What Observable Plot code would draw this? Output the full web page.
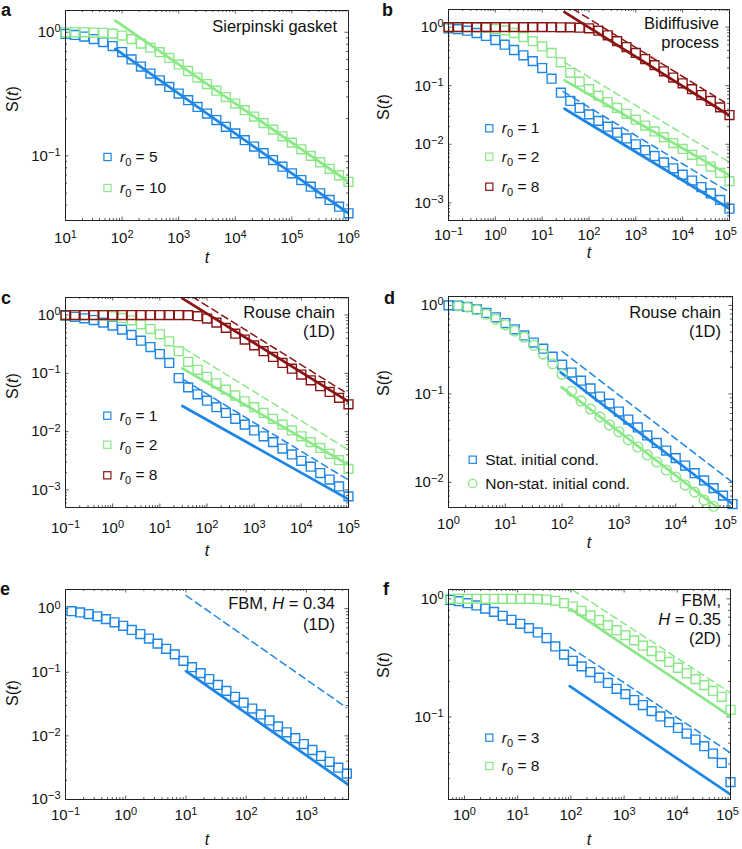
<!DOCTYPE html>
<html>
<head>
<meta charset="utf-8">
<script src="https://cdn.jsdelivr.net/npm/d3@7"></script>
<script src="https://cdn.jsdelivr.net/npm/@observablehq/plot@0.6"></script>
<style>
  html, body { margin: 0; padding: 0; background: #fff; }
  #fig { position: relative; width: 742px; height: 849px; overflow: hidden; background: #fff; }
  #fig svg { position: absolute; }
</style>
</head>
<body>
<div id="fig"></div>
<script>
// ---------------- DATA ----------------
// Panel a: Sierpinski gasket
const tA = [10, 14.68, 21.54, 31.62, 46.42, 68.13, 100, 146.8, 215.4, 316.2, 464.2, 681.3, 1000, 1468, 2154, 3162, 4642, 6813, 1e4, 14680, 21540, 31620, 46420, 68130, 1e5, 146800, 215400, 316200, 464200, 681300, 1e6];
const sA_r5 = [0.970, 0.951, 0.923, 0.881, 0.832, 0.773, 0.692, 0.603, 0.528, 0.463, 0.409, 0.361, 0.319, 0.282, 0.249, 0.220, 0.195, 0.172, 0.152, 0.134, 0.119, 0.105, 0.0925, 0.0817, 0.0722, 0.0637, 0.0563, 0.0498, 0.0440, 0.0388, 0.0343];
const sA_r10 = [1.0, 1.0, 1.0, 0.995, 0.99, 0.975, 0.94, 0.88, 0.81, 0.75, 0.69, 0.62, 0.549, 0.486, 0.430, 0.381, 0.337, 0.299, 0.265, 0.234, 0.208, 0.184, 0.163, 0.144, 0.128, 0.113, 0.100, 0.0888, 0.0786, 0.0697, 0.0617];
const lA_t = [76, 1e6];
const lA_r5 = [0.734, 0.0343];
const lA_r10 = [1.24, 0.0617];

// Panel b: Bidiffusive process
const tB = [0.1, 0.1585, 0.2512, 0.3981, 0.631, 1, 1.585, 2.512, 3.981, 6.31, 10, 15.85, 25.12, 39.81, 63.1, 100, 158.5, 251.2, 398.1, 631, 1000, 1585, 2512, 3981, 6310, 1e4, 15850, 25120, 39810, 63100, 1e5];
const sB_r1 = [0.955, 0.923, 0.871, 0.794, 0.708, 0.603, 0.501, 0.407, 0.331, 0.263, 0.200, 0.132, 0.0759, 0.0550, 0.0417, 0.0324, 0.0251, 0.0200, 0.0158, 0.0126, 0.0100, 0.00794, 0.00631, 0.00490, 0.00389, 0.00302, 0.00240, 0.00186, 0.00145, 0.00112, 0.000794];
const sB_r2 = [1.0, 1.0, 1.0, 0.989, 0.977, 0.933, 0.881, 0.794, 0.676, 0.575, 0.468, 0.363, 0.251, 0.166, 0.117, 0.0871, 0.0676, 0.0525, 0.0417, 0.0331, 0.0263, 0.0209, 0.0166, 0.0132, 0.0105, 0.00832, 0.00661, 0.00525, 0.00417, 0.00324, 0.00234];
const sB_r8 = [1, 1, 1, 1, 1, 1, 1, 1, 1, 1, 1.0, 0.998, 0.995, 0.99, 0.98, 0.955, 0.871, 0.724, 0.575, 0.457, 0.363, 0.285, 0.224, 0.176, 0.138, 0.110, 0.0871, 0.0692, 0.0550, 0.0427, 0.0316];
const lB_solid_t = [30, 1e5];
const lB_r1_solid = [0.0404, 0.000794];
const lB_r2_solid = [0.123, 0.00295];
const lB_r8_solid = [1.80, 0.031];
const lB_r1_dash_t = [28, 1e5], lB_r1_dash = [0.0794, 0.00152];
const lB_r2_dash_t = [30, 1e5], lB_r2_dash = [0.252, 0.00495];
const lB_r8_dash_t = [45, 78000], lB_r8_dash = [2.06, 0.0524];

// Panel c: Rouse chain (1D)
const tC = tB;
const sC_r1 = [0.977, 0.933, 0.881, 0.822, 0.741, 0.661, 0.562, 0.457, 0.363, 0.282, 0.214, 0.151, 0.0832, 0.0575, 0.0437, 0.0339, 0.0263, 0.0209, 0.0166, 0.0132, 0.0105, 0.00832, 0.00661, 0.00513, 0.00407, 0.00316, 0.00251, 0.00195, 0.00151, 0.00115, 0.000776];
const sC_r2 = [1, 1, 1, 1, 0.989, 0.955, 0.891, 0.813, 0.692, 0.575, 0.468, 0.355, 0.240, 0.158, 0.115, 0.0871, 0.0676, 0.0525, 0.0417, 0.0331, 0.0263, 0.0209, 0.0166, 0.0132, 0.0105, 0.00832, 0.00661, 0.00525, 0.00417, 0.00324, 0.00229];
const sC_r8 = [1, 1, 1, 1, 1, 1, 1, 1, 1, 1, 1, 1, 1, 0.995, 0.955, 0.871, 0.741, 0.603, 0.479, 0.380, 0.302, 0.240, 0.191, 0.151, 0.120, 0.0955, 0.0759, 0.0603, 0.0479, 0.0380, 0.0295];
const lC_solid_t = [30, 1e5];
const lC_r1_solid = [0.0275, 0.00069];
const lC_r2_solid = [0.122, 0.00269];
const lC_r8_solid = [1.93, 0.0327];
const lC_dash_t = [32.5, 1e5];
const lC_r1_dash = [0.0769, 0.00148];
const lC_r2_dash = [0.268, 0.00485];
const lC_r8_dash_t = [49, 81000], lC_r8_dash = [2.06, 0.0485];

// Panel d: Rouse chain (1D), initial conditions
const tD_stat = [1, 1.468, 2.154, 3.162, 4.642, 6.813, 10, 14.68, 21.54, 31.62, 46.42, 68.13, 100, 146.8, 215.4, 316.2, 464.2, 681.3, 1000, 1468, 2154, 3162, 4642, 6813, 1e4, 14680, 21540, 31620, 46420, 68130, 1e5];
const sD_stat = [1.0, 0.991, 0.960, 0.902, 0.822, 0.733, 0.631, 0.537, 0.457, 0.380, 0.324, 0.263, 0.214, 0.174, 0.141, 0.115, 0.0933, 0.0776, 0.0631, 0.0513, 0.0417, 0.0339, 0.0279, 0.0229, 0.0188, 0.0155, 0.0127, 0.0105, 0.00861, 0.00708, 0.00569];
const tD_non = [1.468, 2.154, 3.162, 4.642, 6.813, 10, 14.68, 21.54, 31.62, 46.42, 68.13, 100, 146.8, 215.4, 316.2, 464.2, 681.3, 1000, 1468, 2154, 3162, 4642, 6813, 1e4, 14680, 21540, 31620, 46420];
const sD_non = [0.989, 0.955, 0.891, 0.794, 0.700, 0.603, 0.513, 0.437, 0.355, 0.282, 0.219, 0.166, 0.107, 0.0832, 0.0676, 0.0550, 0.0447, 0.0372, 0.0302, 0.0251, 0.0204, 0.0170, 0.0138, 0.0115, 0.00933, 0.00776, 0.00631, 0.00537];
const lD_stat_solid_t = [94.4, 1e5], lD_stat_solid = [0.175, 0.00569];
const lD_stat_dash_t = [101, 1e5], lD_stat_dash = [0.301, 0.01];
const lD_non_solid_t = [97.7, 54000], lD_non_solid = [0.119, 0.0052];

// Panel e: FBM, H = 0.34 (1D)
const tE = [0.1259, 0.1750, 0.2432, 0.3380, 0.4693, 0.6521, 0.9061, 1.259, 1.750, 2.432, 3.380, 4.693, 6.521, 9.061, 12.59, 17.50, 24.32, 33.80, 46.93, 65.21, 90.61, 125.9, 175.0, 243.2, 338.0, 469.3, 652.1, 906.1, 1259, 1750, 2432, 3380, 4693];
const sE = [0.912, 0.871, 0.822, 0.759, 0.684, 0.610, 0.537, 0.462, 0.398, 0.339, 0.282, 0.234, 0.191, 0.151, 0.120, 0.0970, 0.0783, 0.0632, 0.0510, 0.0412, 0.0333, 0.0269, 0.0217, 0.0175, 0.0141, 0.0114, 0.00920, 0.00743, 0.00600, 0.00484, 0.00391, 0.00316, 0.00255];
const lE_solid_t = [10, 5000], lE_solid = [0.104, 0.0017];
const lE_dash_t = [10, 4650], lE_dash = [1.61, 0.0278];

// Panel f: FBM, H = 0.35 (2D)
const tF = [0.537, 0.785, 1.146, 1.675, 2.447, 3.578, 5.224, 7.638, 11.17, 16.29, 23.82, 34.83, 50.82, 74.30, 108.6, 158.9, 231.7, 338.8, 495.5, 722.8, 1057, 1545, 2254, 3296, 4819, 7047, 10280, 15030, 21980, 32060, 46880, 68550, 100000];
const sF_r3 = [0.982, 0.955, 0.918, 0.879, 0.828, 0.776, 0.718, 0.665, 0.615, 0.565, 0.519, 0.466, 0.395, 0.337, 0.299, 0.268, 0.240, 0.215, 0.194, 0.173, 0.156, 0.139, 0.126, 0.112, 0.101, 0.0902, 0.0807, 0.0723, 0.0643, 0.0565, 0.0490, 0.0408, 0.0281];
const sF_r8 = [1, 1, 1, 1, 1, 1, 1, 1, 1, 1, 0.995, 0.986, 0.962, 0.919, 0.861, 0.792, 0.723, 0.661, 0.598, 0.543, 0.493, 0.445, 0.401, 0.361, 0.326, 0.292, 0.261, 0.234, 0.209, 0.186, 0.166, 0.148, 0.115];
const lF_r3_solid_t = [95, 1e5], lF_r3_solid = [0.182, 0.0221];
const lF_r3_dash_t = [95, 1e5], lF_r3_dash = [0.391, 0.0497];
const lF_r8_solid_t = [99, 1e5], lF_r8_solid = [0.818, 0.101];
const lF_r8_dash_t = [107, 1e5], lF_r8_dash = [1.19, 0.160];

// Tick values (labelled decades)
const ticksA_x = [10, 100, 1e3, 1e4, 1e5, 1e6], ticksA_y = [1, 0.1];
const ticksB_x = [0.1, 1, 10, 100, 1e3, 1e4, 1e5], ticksB_y = [1, 0.1, 0.01, 0.001];
const ticksD_x = [1, 10, 100, 1e3, 1e4, 1e5], ticksD_y = [1, 0.1, 0.01];
const ticksE_x = [0.1, 1, 10, 100, 1e3], ticksE_y = [1, 0.1, 0.01, 0.001];
const ticksF_x = [1, 10, 100, 1e3, 1e4, 1e5], ticksF_y = [1, 0.1];

// ---------------- STYLE ----------------
const FONT = '"Liberation Sans", Arial, Helvetica, sans-serif';
const BLUE = "#1e86e4", GREEN = "#8be887", RED = "#8a1414";
const MAJ = 3.5, MIN = 2;

function minorTicks([a, b]) {
  const out = [];
  for (let e = Math.floor(Math.log10(a)); e <= Math.ceil(Math.log10(b)); e++)
    for (let m = 2; m <= 9; m++) { const v = m * Math.pow(10, e); if (v > a * 1.0001 && v < b * 0.9999) out.push(v); }
  return out;
}
function pow10(d) { const e = Math.round(Math.log10(d)); return "10^" + (e < 0 ? "\u2212" + (-e) : String(e)); }
function zip(t, s) { return t.map((x, i) => ({t: x, s: s[i]})); }

function superscripts(svg) {
  const ns = "http://www.w3.org/2000/svg";
  svg.querySelectorAll("text").forEach(t => {
    const m = /^10\^(\u2212?\d+)$/.exec(t.textContent);
    if (!m) return;
    t.textContent = "";
    const a = document.createElementNS(ns, "tspan"); a.textContent = "10";
    const b = document.createElementNS(ns, "tspan"); b.textContent = m[1];
    b.setAttribute("font-size", "11px"); b.setAttribute("dy", "-0.45em");
    t.append(a, b);
  });
}

function buildPanel(p) {
  const fw = 371 - p.ml - p.mr, fh = 283 - p.mt - p.mb;
  const xm = minorTicks(p.xdom), ym = minorTicks(p.ydom);
  const tk = {stroke: "#333", strokeWidth: 0.8};
  const marks = [
    Plot.ruleX(p.xticks, {...tk, insetTop: fh - MAJ}),
    Plot.ruleX(p.xticks, {...tk, insetBottom: fh - MAJ}),
    Plot.ruleX(xm, {...tk, insetTop: fh - MIN}),
    Plot.ruleX(xm, {...tk, insetBottom: fh - MIN}),
    Plot.ruleY(p.yticks, {...tk, insetRight: fw - MAJ}),
    Plot.ruleY(p.yticks, {...tk, insetLeft: fw - MAJ}),
    Plot.ruleY(ym, {...tk, insetRight: fw - MIN}),
    Plot.ruleY(ym, {...tk, insetLeft: fw - MIN})
  ];
  for (const L of p.lines) {
    marks.push(Plot.line(zip(L.t, L.s), {x: "t", y: "s", stroke: L.color,
      strokeWidth: L.dash ? 1.5 : 2.7, strokeDasharray: L.dash ? "7,4.5" : null, clip: true}));
  }
  for (const S of p.series) {
    marks.push(Plot.dot(zip(S.t, S.s), {x: "t", y: "s", symbol: S.symbol || "square",
      r: S.symbol === "circle" ? 4.9 : 5, stroke: S.color, strokeWidth: 1.4, fill: "none"}));
  }
  marks.push(Plot.frame({stroke: "#222", strokeWidth: 1}));
  const lastDx = p.lastDx || 0;
  const xt = lastDx ? p.xticks.slice(0, -1) : p.xticks;
  marks.push(Plot.axisX({ticks: xt, tickSize: 0, tickPadding: p.xpad, tickFormat: pow10, label: null}));
  if (lastDx) marks.push(Plot.axisX({ticks: p.xticks.slice(-1), tickSize: 0, tickPadding: p.xpad, tickFormat: pow10, label: null, dx: lastDx}));
  marks.push(Plot.axisY({ticks: p.yticks, tickSize: 0, tickPadding: 5, tickFormat: pow10, label: null}));
  const svg = Plot.plot({
    width: 371, height: 283,
    marginLeft: p.ml, marginRight: p.mr, marginTop: p.mt, marginBottom: p.mb,
    x: {type: "log", domain: p.xdom},
    y: {type: "log", domain: p.ydom},
    style: {fontFamily: FONT, fontSize: "15px", color: "#111", background: "transparent", overflow: "visible"},
    marks
  });
  superscripts(svg);
  svg.style.left = p.left + "px";
  svg.style.top = p.top + "px";
  document.getElementById("fig").appendChild(svg);
}

const panels = [
  {left: 0, top: 0, ml: 65, mr: 23, mt: 10, mb: 63, xpad: 12, xdom: [10, 1e6], ydom: [0.03, 1.5], xticks: ticksA_x, yticks: ticksA_y,
   lines: [{t: lA_t, s: lA_r5, color: BLUE}, {t: lA_t, s: lA_r10, color: GREEN}],
   series: [{t: tA, s: sA_r5, color: BLUE}, {t: tA, s: sA_r10, color: GREEN}]},
  {left: 371, top: 0, ml: 77, mr: 13, mt: 9, mb: 63, xpad: 9, lastDx: -4, xdom: [0.1, 1e5], ydom: [5e-4, 2], xticks: ticksB_x, yticks: ticksB_y,
   lines: [
     {t: lB_r1_dash_t, s: lB_r1_dash, color: BLUE, dash: true}, {t: lB_r2_dash_t, s: lB_r2_dash, color: GREEN, dash: true}, {t: lB_r8_dash_t, s: lB_r8_dash, color: RED, dash: true},
     {t: lB_solid_t, s: lB_r1_solid, color: BLUE}, {t: lB_solid_t, s: lB_r2_solid, color: GREEN}, {t: lB_solid_t, s: lB_r8_solid, color: RED}],
   series: [{t: tB, s: sB_r1, color: BLUE}, {t: tB, s: sB_r2, color: GREEN}, {t: tB, s: sB_r8, color: RED}]},
  {left: 0, top: 283, ml: 65, mr: 23, mt: 14, mb: 59, xpad: 15, xdom: [0.1, 1e5], ydom: [5e-4, 2], xticks: ticksB_x, yticks: ticksB_y,
   lines: [
     {t: lC_dash_t, s: lC_r1_dash, color: BLUE, dash: true}, {t: lC_dash_t, s: lC_r2_dash, color: GREEN, dash: true}, {t: lC_r8_dash_t, s: lC_r8_dash, color: RED, dash: true},
     {t: lC_solid_t, s: lC_r1_solid, color: BLUE}, {t: lC_solid_t, s: lC_r2_solid, color: GREEN}, {t: lC_solid_t, s: lC_r8_solid, color: RED}],
   series: [{t: tC, s: sC_r1, color: BLUE}, {t: tC, s: sC_r2, color: GREEN}, {t: tC, s: sC_r8, color: RED}]},
  {left: 371, top: 283, ml: 77, mr: 10, mt: 13, mb: 59, xpad: 11, lastDx: -7, xdom: [1, 1e5], ydom: [0.0052, 1.26], xticks: ticksD_x, yticks: ticksD_y,
   lines: [{t: lD_stat_dash_t, s: lD_stat_dash, color: BLUE, dash: true}, {t: lD_stat_solid_t, s: lD_stat_solid, color: BLUE}, {t: lD_non_solid_t, s: lD_non_solid, color: GREEN}],
   series: [{t: tD_stat, s: sD_stat, color: BLUE}, {t: tD_non, s: sD_non, color: GREEN, symbol: "circle"}]},
  {left: 0, top: 566, ml: 65, mr: 23, mt: 23, mb: 50, xpad: 10, xdom: [0.1, 5000], ydom: [1e-3, 2], xticks: ticksE_x, yticks: ticksE_y,
   lines: [{t: lE_dash_t, s: lE_dash, color: BLUE, dash: true}, {t: lE_solid_t, s: lE_solid, color: BLUE}],
   series: [{t: tE, s: sE, color: BLUE}]},
  {left: 371, top: 566, ml: 77, mr: 12, mt: 23, mb: 50, xpad: 10, lastDx: -3, xdom: [0.5, 1e5], ydom: [0.02, 1.2], xticks: ticksF_x, yticks: ticksF_y,
   lines: [{t: lF_r3_dash_t, s: lF_r3_dash, color: BLUE, dash: true}, {t: lF_r8_dash_t, s: lF_r8_dash, color: GREEN, dash: true},
           {t: lF_r3_solid_t, s: lF_r3_solid, color: BLUE}, {t: lF_r8_solid_t, s: lF_r8_solid, color: GREEN}],
   series: [{t: tF, s: sF_r3, color: BLUE}, {t: tF, s: sF_r8, color: GREEN}]}
];
panels.forEach(buildPanel);

// ---------------- TEXT OVERLAY ----------------
const ov = d3.select("#fig").append("svg").attr("width", 742).attr("height", 849)
  .style("left", "0px").style("top", "0px").attr("font-family", FONT).attr("fill", "#111");

function rich(x, y, segs, o = {}) {
  const t = ov.append("text").attr("x", x).attr("y", y).attr("font-size", o.size || 15.5)
    .attr("text-anchor", o.anchor || "start");
  if (o.bold) t.attr("font-weight", "bold");
  if (o.rotate) t.attr("transform", `rotate(-90 ${x} ${y})`);
  let shift = 0;
  for (const s of segs) {
    const sp = t.append("tspan").text(s.t);
    const target = s.sub ? 4 : 0;
    if (target !== shift) { sp.attr("dy", target - shift); shift = target; }
    if (s.i) sp.attr("font-style", "italic");
    if (s.sub) sp.attr("font-size", 11);
  }
}
const r0 = n => [{t: "r", i: true}, {t: "0", sub: true}, {t: " = " + n}];
const St = [{t: "S("}, {t: "t", i: true}, {t: ")"}];
const tt = [{t: "t", i: true}];

// panel letters
[["a", 1, 16], ["b", 382, 16], ["c", 1, 304], ["d", 384, 304], ["e", 0, 595], ["f", 383, 595]]
  .forEach(([l, x, y]) => rich(x, y, [{t: l}], {bold: true, size: 18}));

// axis labels
[[18, 99], [389, 107], [18, 386], [389, 383], [18, 693], [389, 665]].forEach(([x, y]) => rich(x, y, St, {rotate: true, anchor: "middle", size: 16}));
[[207, 263], [589, 258], [207, 556], [589, 548], [207, 845], [589, 845]].forEach(([x, y]) => rich(x, y, tt, {anchor: "middle", size: 16}));

// annotations
[
  [337, 32, [{t: "Sierpinski gasket"}]],
  [719, 29, [{t: "Bidiffusive"}]], [719, 48, [{t: "process"}]],
  [335, 318, [{t: "Rouse chain"}]], [335, 337, [{t: "(1D)"}]],
  [721, 318, [{t: "Rouse chain"}]], [721, 337, [{t: "(1D)"}]],
  [335, 609, [{t: "FBM, "}, {t: "H", i: true}, {t: " = 0.34"}]], [335, 630, [{t: "(1D)"}]],
  [721, 606, [{t: "FBM,"}]], [721, 625, [{t: "H", i: true}, {t: " = 0.35"}]], [721, 644, [{t: "(2D)"}]]
].forEach(([x, y, segs]) => rich(x, y, segs, {anchor: "end", size: 16.5}));

// legends
function legendItem(cx, cy, color, sym, segs) {
  if (sym === "circle") ov.append("circle").attr("cx", cx).attr("cy", cy).attr("r", 4.2).attr("fill", "none").attr("stroke", color).attr("stroke-width", 1.2);
  else ov.append("rect").attr("x", cx - 3.6).attr("y", cy - 3.6).attr("width", 7.2).attr("height", 7.2).attr("fill", "none").attr("stroke", color).attr("stroke-width", 1.2);
  rich(cx + 12.5, cy + 5, segs);
}
legendItem(107.5, 157, BLUE, "square", r0(5));
legendItem(107.5, 188, GREEN, "square", r0(10));
legendItem(489.3, 128.3, BLUE, "square", r0(1));
legendItem(489.3, 156.7, GREEN, "square", r0(2));
legendItem(489.3, 186.7, RED, "square", r0(8));
legendItem(107.3, 415.7, BLUE, "square", r0(1));
legendItem(107.3, 444.7, GREEN, "square", r0(2));
legendItem(107.3, 475.3, RED, "square", r0(8));
legendItem(472.7, 459.7, BLUE, "square", [{t: "Stat. initial cond."}]);
legendItem(472.7, 483.5, GREEN, "circle", [{t: "Non-stat. initial cond."}]);
legendItem(489.3, 737.7, BLUE, "square", r0(3));
legendItem(489.3, 766, GREEN, "square", r0(8));
</script>
</body>
</html>
